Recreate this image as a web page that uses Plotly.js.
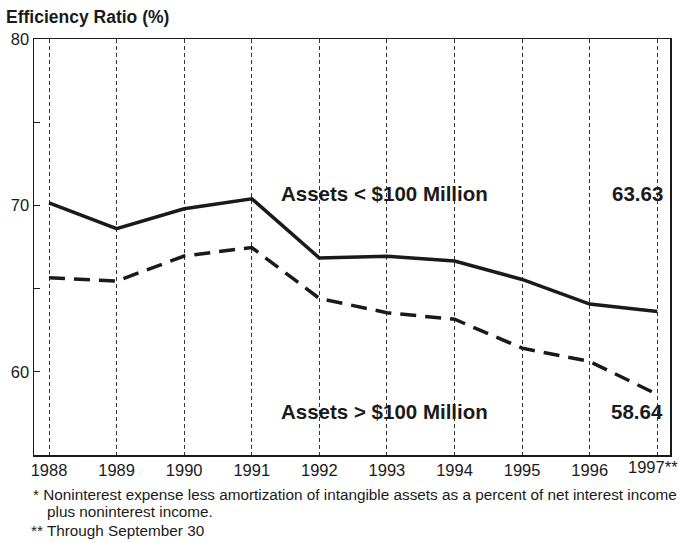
<!DOCTYPE html>
<html>
<head>
<meta charset="utf-8">
<script src="https://cdn.plot.ly/plotly-3.0.1.min.js"></script>
<style>html,body{margin:0;padding:0;background:#fff;}#chart{width:681px;height:543px;}</style>
</head>
<body>
<div id="chart"></div>
<script>
const years = [1988, 1989, 1990, 1991, 1992, 1993, 1994, 1995, 1996, 1997];
const yearLabels = ["1988", "1989", "1990", "1991", "1992", "1993", "1994", "1995", "1996", ""];
const lastYearLabel = "1997**";
const smallBanks = [70.15, 68.6, 69.8, 70.4, 66.84, 66.95, 66.66, 65.55, 64.07, 63.63];
const largeBanks = [65.65, 65.45, 66.96, 67.47, 64.41, 63.55, 63.16, 61.42, 60.62, 58.64];
const yTickVals = [60, 65, 70, 75, 80];
const yTickText = ["60", "", "70", "", "80"];

const font = "Liberation Sans, Arial, sans-serif";

const traces = [
  {x: years, y: smallBanks, mode: "lines", type: "scatter",
   line: {color: "#1a1a1a", width: 3.5}, hoverinfo: "skip"},
  {x: years, y: largeBanks, mode: "lines", type: "scatter",
   line: {color: "#1a1a1a", width: 3.5, dash: "16px,9px"}, hoverinfo: "skip"}
];

const layout = {
  width: 681, height: 543,
  margin: {l: 34, r: 11, t: 39, b: 88},
  paper_bgcolor: "#fff", plot_bgcolor: "#fff",
  showlegend: false,
  font: {family: font, color: "#1a1a1a", size: 16.5},
  xaxis: {
    range: [1987.778, 1997.188],
    tickvals: years, ticktext: yearLabels,
    showgrid: true, gridcolor: "#333", gridwidth: 1, griddash: "4px,3px",
    showline: true, linecolor: "#1a1a1a", linewidth: 1.5, mirror: true,
    ticks: "", zeroline: false,
    tickfont: {family: font, size: 16.5, color: "#1a1a1a"}
  },
  yaxis: {
    range: [55, 80],
    tickvals: yTickVals, ticktext: yTickText,
    showgrid: false, zeroline: false,
    showline: true, linecolor: "#1a1a1a", linewidth: 1.5, mirror: true,
    ticks: "inside", ticklen: 6, tickwidth: 1, tickcolor: "#1a1a1a",
    tickfont: {family: font, size: 16.5, color: "#1a1a1a"}
  },
  annotations: [
    {xref: "paper", yref: "paper", x: -0.047, y: 1.0, yshift: 22, xanchor: "left", yanchor: "middle",
     text: "<b>Efficiency Ratio (%)</b>", showarrow: false, font: {family: font, size: 17.5, color: "#1a1a1a"}},
    {xref: "paper", yref: "paper", x: 1.0165, y: 0, yshift: -12, xanchor: "right", yanchor: "middle",
     text: lastYearLabel, showarrow: false, font: {family: font, size: 16.5, color: "#1a1a1a"}},
    {x: 1992.96, y: 70.69, xanchor: "center", yanchor: "middle", text: "<b>Assets < $100 Million</b>",
     showarrow: false, font: {family: font, size: 20.5, color: "#1a1a1a"}},
    {x: 1997.12, y: 70.69, xanchor: "right", yanchor: "middle", text: "<b>63.63</b>",
     showarrow: false, font: {family: font, size: 20.5, color: "#1a1a1a"}},
    {x: 1992.96, y: 57.6, xanchor: "center", yanchor: "middle", text: "<b>Assets > $100 Million</b>",
     showarrow: false, font: {family: font, size: 20.5, color: "#1a1a1a"}},
    {x: 1997.12, y: 57.6, xanchor: "right", yanchor: "middle", text: "<b>58.64</b>",
     showarrow: false, font: {family: font, size: 20.5, color: "#1a1a1a"}},
    {xref: "paper", yref: "paper", x: -0.005, y: 0, yshift: -39, xanchor: "left", yanchor: "middle",
     text: "* Noninterest expense less amortization of intangible assets as a percent of net interest income",
     showarrow: false, font: {family: font, size: 15.3, color: "#1a1a1a"}},
    {xref: "paper", yref: "paper", x: 0.017, y: 0, yshift: -56, xanchor: "left", yanchor: "middle",
     text: "plus noninterest income.", showarrow: false, font: {family: font, size: 15.3, color: "#1a1a1a"}},
    {xref: "paper", yref: "paper", x: -0.008, y: 0, yshift: -75, xanchor: "left", yanchor: "middle",
     text: "** Through September 30", showarrow: false, font: {family: font, size: 15.3, color: "#1a1a1a"}}
  ]
};

Plotly.newPlot("chart", traces, layout, {staticPlot: true, displayModeBar: false});
</script>
</body>
</html>
